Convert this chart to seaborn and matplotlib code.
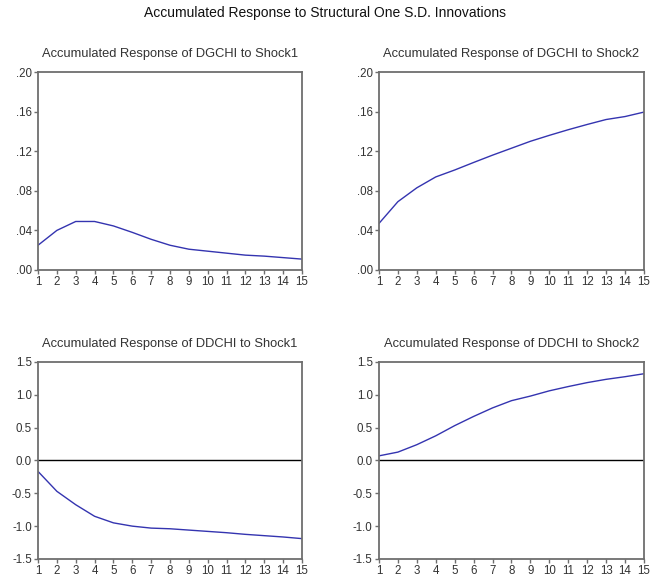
import matplotlib
matplotlib.use("Agg")
import matplotlib.pyplot as plt
import seaborn as sns
import pandas as pd

# Periods and accumulated responses
PERIODS = list(range(1, 16))
DGCHI_SHOCK1 = [0.025, 0.040, 0.049, 0.049, 0.0445, 0.038, 0.031, 0.025, 0.021,
                0.019, 0.017, 0.015, 0.014, 0.0125, 0.011]
DGCHI_SHOCK2 = [0.047, 0.069, 0.083, 0.094, 0.101, 0.1086, 0.116, 0.123, 0.130,
                0.136, 0.1417, 0.147, 0.152, 0.155, 0.1595]
DDCHI_SHOCK1 = [-0.167, -0.47, -0.674, -0.85, -0.95, -1.0, -1.03, -1.04, -1.06,
                -1.08, -1.10, -1.125, -1.145, -1.165, -1.19]
DDCHI_SHOCK2 = [0.07, 0.127, 0.24, 0.375, 0.53, 0.67, 0.80, 0.91, 0.98,
                1.06, 1.125, 1.185, 1.235, 1.275, 1.32]

DG_TICKS = [0.0, 0.04, 0.08, 0.12, 0.16, 0.20]
DG_LABELS = [".00", ".04", ".08", ".12", ".16", ".20"]
DD_TICKS = [-1.5, -1.0, -0.5, 0.0, 0.5, 1.0, 1.5]
DD_LABELS = ["-1.5", "-1.0", "-0.5", "0.0", "0.5", "1.0", "1.5"]

TITLES = [
    "Accumulated Response of DGCHI to Shock1",
    "Accumulated Response of DGCHI to Shock2",
    "Accumulated Response of DDCHI to Shock1",
    "Accumulated Response of DDCHI to Shock2",
]

sns.set_style("white")
plt.rcParams["font.family"] = ["Liberation Sans", "DejaVu Sans"]

LINE_COLOR = "#3434b0"
FRAME_COLOR = "#6e6e6e"
TEXT_COLOR = "#333333"

fig = plt.figure(figsize=(6.5, 5.83), dpi=100)
fig.text(0.5, 0.978, "Accumulated Response to Structural One S.D. Innovations",
         ha="center", va="center", fontsize=10, color="#111111")

# axes rectangles in figure fractions (left, bottom, width, height)
rects = [
    (0.0585, 0.5369, 0.406, 0.3396),
    (0.583, 0.5369, 0.4077, 0.3396),
    (0.0585, 0.0412, 0.406, 0.338),
    (0.583, 0.0412, 0.4077, 0.338),
]
series = [DGCHI_SHOCK1, DGCHI_SHOCK2, DDCHI_SHOCK1, DDCHI_SHOCK2]

for i, (rect, vals, title) in enumerate(zip(rects, series, TITLES)):
    ax = fig.add_axes(rect)
    df = pd.DataFrame({"period": PERIODS, "response": vals})
    sns.lineplot(data=df, x="period", y="response", ax=ax, color=LINE_COLOR, linewidth=1.0)
    ax.set_xlim(1, 15)
    ax.set_xticks(PERIODS)
    if i < 2:
        ax.set_ylim(0, 0.20)
        ax.set_yticks(DG_TICKS)
        ax.set_yticklabels(DG_LABELS)
    else:
        ax.set_ylim(-1.5, 1.5)
        ax.set_yticks(DD_TICKS)
        ax.set_yticklabels(DD_LABELS)
        ax.axhline(0, color="black", linewidth=1.0, zorder=1)
    ax.set_xlabel("")
    ax.set_ylabel("")
    ax.set_title(title, fontsize=9.3, color=TEXT_COLOR, pad=10.5)
    for sp in ax.spines.values():
        sp.set_color(FRAME_COLOR)
        sp.set_linewidth(1.3)
    ax.tick_params(axis="both", direction="out", length=3, width=1, colors=FRAME_COLOR,
                   labelcolor=TEXT_COLOR, labelsize=8.3, pad=1.5,
                   bottom=True, left=True, top=False, right=False)

fig.savefig("out.png", dpi=100)
